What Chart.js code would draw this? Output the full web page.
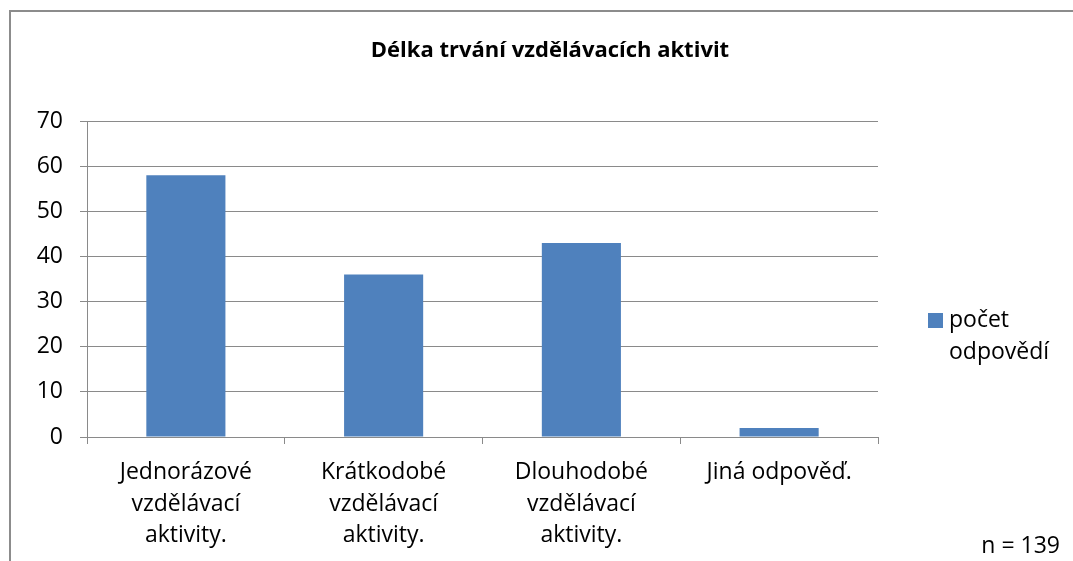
<!DOCTYPE html>
<html lang="cs">
<head>
<meta charset="UTF-8">
<title>Délka trvání vzdělávacích aktivit</title>
<style>
  body { margin: 0; background: #fff; }
  canvas { display: block; }
</style>
</head>
<body>
<canvas id="myChart" width="1073" height="561"></canvas>
<script src="https://cdn.jsdelivr.net/npm/chart.js@4.4.0/dist/chart.umd.min.js"></script>
<script>
const chartTitle = 'Délka trvání vzdělávacích aktivit';
const categories = [
  ['Jednorázové', 'vzdělávací', 'aktivity.'],
  ['Krátkodobé', 'vzdělávací', 'aktivity.'],
  ['Dlouhodobé', 'vzdělávací', 'aktivity.'],
  'Jiná odpověď.'
];
const seriesName = ['počet', 'odpovědí'];
const counts = [58, 36, 43, 2];
const yTicks = [0, 10, 20, 30, 40, 50, 60, 70];
const note = 'n = 139';

const font = 'Open Sans';
const gray = '#8a8a8a';
const barColor = '#4f81bd';

// frame, title, legend and note like the Excel original
const extras = {
  id: 'extras',
  beforeDraw(chart) {
    const c = chart.ctx;
    c.save();
    c.strokeStyle = '#8c8c8c';
    c.lineWidth = 2;
    c.beginPath();
    c.moveTo(10, 561);
    c.lineTo(10, 11);
    c.lineTo(1073, 11);
    c.stroke();
    c.restore();
  },
  afterDraw(chart) {
    const c = chart.ctx;
    c.save();
    c.fillStyle = '#000';
    c.textBaseline = 'middle';
    c.font = 'bold 22px "' + font + '"';
    c.textAlign = 'center';
    c.fillText(chartTitle, 550, 51);

    const ds = chart.data.datasets[0];
    c.fillStyle = ds.backgroundColor;
    c.fillRect(928, 313, 15, 15);
    c.fillStyle = '#000';
    c.font = '23px "' + font + '"';
    c.textAlign = 'left';
    ds.label.forEach((t, i) => c.fillText(t, 949, 320 + i * 32));

    c.textAlign = 'right';
    c.fillText(note, 1060, 546);
    c.restore();
  }
};

new Chart(document.getElementById('myChart'), {
  type: 'bar',
  data: {
    labels: categories,
    datasets: [{
      label: seriesName,
      data: counts,
      backgroundColor: barColor,
      borderWidth: 0,
      categoryPercentage: 1,
      barPercentage: 0.4
    }]
  },
  options: {
    responsive: false,
    animation: false,
    layout: { padding: { top: 121, right: 195, left: 0, bottom: 0 } },
    plugins: {
      legend: { display: false },
      title: { display: false },
      tooltip: { enabled: false }
    },
    scales: {
      x: {
        grid: {
          offset: true,
          drawOnChartArea: false,
          drawTicks: true,
          tickLength: 7,
          color: gray
        },
        border: { color: gray, width: 1 },
        ticks: {
          color: '#000',
          padding: 12,
          maxRotation: 0,
          autoSkip: false,
          font: { family: font, size: 23, lineHeight: 1.39 }
        },
        afterFit(scale) { scale.height = 124; }
      },
      y: {
        min: 0,
        max: 70,
        afterBuildTicks(scale) { scale.ticks = yTicks.map(v => ({ value: v })); },
        grid: { color: gray, tickLength: 7, lineWidth: 1 },
        border: { color: gray, width: 1 },
        ticks: {
          color: '#000',
          padding: 17,
          font: { family: font, size: 23 }
        },
        afterFit(scale) { scale.width = 87; }
      }
    }
  },
  plugins: [extras]
});
</script>
</body>
</html>
